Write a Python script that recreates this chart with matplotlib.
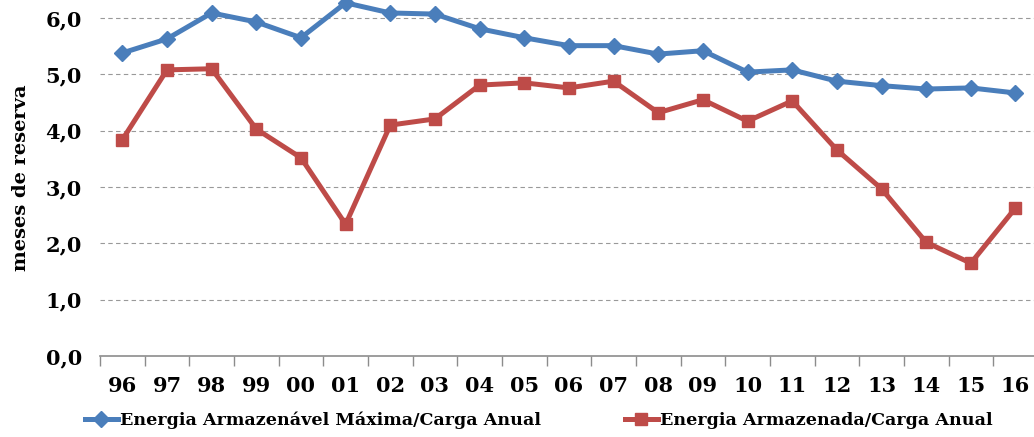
import numpy as np
import matplotlib
matplotlib.use("Agg")
import matplotlib.pyplot as plt
from matplotlib.lines import Line2D

anos = ["96", "97", "98", "99", "00", "01", "02", "03", "04", "05", "06",
        "07", "08", "09", "10", "11", "12", "13", "14", "15", "16"]

# meses de reserva
armazenavel_max = [5.38, 5.63, 6.09, 5.93, 5.65, 6.27, 6.09, 6.07, 5.81, 5.65, 5.51,
                   5.51, 5.36, 5.42, 5.04, 5.08, 4.88, 4.80, 4.74, 4.76, 4.67]
armazenada = [3.84, 5.08, 5.10, 4.03, 3.52, 2.34, 4.10, 4.21, 4.81, 4.85, 4.76,
              4.88, 4.32, 4.55, 4.17, 4.53, 3.66, 2.97, 2.02, 1.65, 2.63]

nome_max = "Energia Armazenável Máxima/Carga Anual"
nome_arm = "Energia Armazenada/Carga Anual"

AZUL = "#4A7EBB"
VERMELHO = "#BE4B48"

plt.rcParams["font.family"] = ["DejaVu Serif"]
plt.rcParams["font.weight"] = "bold"

fig = plt.figure(figsize=(10.34, 4.37), dpi=100)
ax = fig.add_axes([0.0967, 0.185, 0.907, 0.815])

x = np.arange(len(anos))
ax.plot(x, armazenavel_max, color=AZUL, lw=3.6, marker="D", ms=8.5,
        markeredgecolor=AZUL, clip_on=False, zorder=4)
ax.plot(x, armazenada, color=VERMELHO, lw=3.6, marker="s", ms=8,
        markeredgecolor=VERMELHO, clip_on=False, zorder=4)

ax.set_xlim(-0.5, len(anos) - 0.5)
ax.set_ylim(0, 6.32)
ax.set_yticks(np.arange(0, 7, 1.0))
ax.set_yticklabels([f"{v:.1f}".replace(".", ",") for v in np.arange(0, 7, 1.0)],
                   fontsize=15, fontweight="bold")
ax.set_xticks(x)
ax.set_xticklabels(anos, fontsize=15, fontweight="bold")
ax.set_xticks(np.arange(-0.5, len(anos), 1.0), minor=True)
ax.tick_params(axis="x", which="major", length=0, pad=14)
ax.tick_params(axis="x", which="minor", length=7, color="#8C8C8C", width=1)
ax.tick_params(axis="y", length=0, pad=13)

for v in range(1, 7):
    ax.axhline(v, color="#999999", lw=0.8, ls=(0, (4, 3)), zorder=1)

for s in ["top", "right", "left"]:
    ax.spines[s].set_visible(False)
ax.spines["bottom"].set_color("#8C8C8C")
ax.spines["bottom"].set_linewidth(1.2)

ax.set_ylabel("meses de reserva", fontsize=14, fontweight="bold")
ax.yaxis.set_label_coords(-0.075, 0.5)

# legenda em duas partes, lado a lado abaixo do eixo
series = [
    (nome_max, Line2D([], [], color=AZUL, lw=3.6, marker="D", ms=8.5, markeredgecolor=AZUL), 0.082),
    (nome_arm, Line2D([], [], color=VERMELHO, lw=3.6, marker="s", ms=8, markeredgecolor=VERMELHO), 0.604),
]
for nome, h, xpos in series:
    fig.legend([h], [nome], loc="center left", bbox_to_anchor=(xpos, 0.038),
               frameon=False, handlelength=1.9, handletextpad=0.1,
               borderpad=0, borderaxespad=0, prop={"weight": "bold", "size": 12.6})

fig.savefig("out.png", dpi=100)
